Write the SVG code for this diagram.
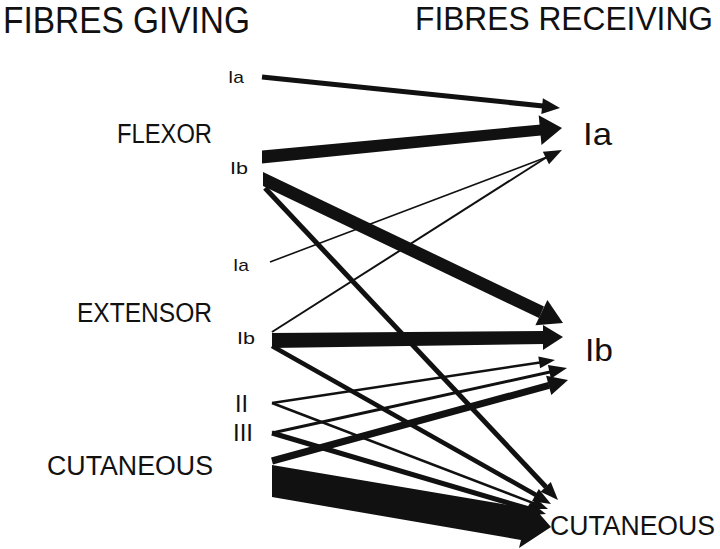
<svg xmlns="http://www.w3.org/2000/svg" width="720" height="549" viewBox="0 0 720 549">
<style>
text{font-family:"Liberation Sans",Arial,sans-serif;fill:#111}
.t{font-size:36px}
.m{font-size:27px}
.s{font-size:17px}
.r{font-size:24px}
.b{font-size:32px}
.ln{stroke:#111;fill:none;stroke-linecap:butt}
.hd{fill:#111}
</style>
<rect width="720" height="549" fill="#fff"/>
<g id="title-giving"><text class="t" x="3" y="33" textLength="247" lengthAdjust="spacingAndGlyphs">FIBRES GIVING</text></g>
<g id="title-receiving"><text transform="translate(415,30) scale(1,1.12)" x="0" y="0" style="font-size:30px" textLength="298" lengthAdjust="spacingAndGlyphs">FIBRES RECEIVING</text></g>
<g id="flexor"><text class="m" x="117" y="143" textLength="95" lengthAdjust="spacingAndGlyphs">FLEXOR</text></g>
<g id="flexor-ia"><text class="s" x="228" y="83" textLength="16" lengthAdjust="spacingAndGlyphs">Ia</text></g>
<g id="flexor-ib"><text class="s" x="230" y="174" textLength="18" lengthAdjust="spacingAndGlyphs">Ib</text></g>
<g id="extensor"><text class="m" x="77" y="322" textLength="135" lengthAdjust="spacingAndGlyphs">EXTENSOR</text></g>
<g id="extensor-ia"><text class="s" x="233" y="271" textLength="16" lengthAdjust="spacingAndGlyphs">Ia</text></g>
<g id="extensor-ib"><text class="s" x="237" y="344" textLength="18" lengthAdjust="spacingAndGlyphs">Ib</text></g>
<g id="cutaneous-ii"><text class="r" x="235" y="412" textLength="13" lengthAdjust="spacingAndGlyphs">II</text></g>
<g id="cutaneous-iii"><text class="r" x="233" y="441" textLength="20" lengthAdjust="spacingAndGlyphs">III</text></g>
<g id="cutaneous-src"><text class="m" x="47" y="475" textLength="166" lengthAdjust="spacingAndGlyphs">CUTANEOUS</text></g>
<g id="recv-ia"><text class="b" x="583" y="145" textLength="29" lengthAdjust="spacingAndGlyphs">Ia</text></g>
<g id="recv-ib"><text class="b" x="585" y="361" textLength="28" lengthAdjust="spacingAndGlyphs">Ib</text></g>
<g id="recv-cutaneous"><text class="m" x="550" y="535" textLength="165" lengthAdjust="spacingAndGlyphs">CUTANEOUS</text></g>
<g id="connectors">
<line class="ln" x1="262" y1="77" x2="543" y2="106" stroke-width="5"/>
<polygon class="hd" points="560,108 541.3,114.1 542.9,98.2"/>
<polygon class="hd" points="262,150.5 541,124.5 541,135.5 262,163.5"/>
<polygon class="hd" points="562,128 541.5,145 538.7,115.2"/>
<line class="ln" x1="270" y1="262" x2="547" y2="157" stroke-width="1.6"/>
<line class="ln" x1="272" y1="332" x2="547" y2="157" stroke-width="2"/>
<polygon class="hd" points="562,150 549,164.3 542.8,151.8"/>
<polygon class="hd" points="263,172 544,306.5 539,318 263,186"/>
<polygon class="hd" points="563,323 535.4,325.2 547.4,300"/>
<line class="ln" x1="265" y1="188" x2="546" y2="487" stroke-width="5"/>
<polygon class="hd" points="558,500 540.6,491.7 550.8,482.1"/>
<polygon class="hd" points="272,333 545,331 545,344 272,348"/>
<polygon class="hd" points="563,337 543,325 543,350"/>
<line class="ln" x1="272" y1="346" x2="536" y2="495" stroke-width="4.5"/>
<polygon class="hd" points="551,504 531.9,501.2 538.8,489"/>
<line class="ln" x1="272" y1="403" x2="540" y2="362.4" stroke-width="2.5"/>
<polygon class="hd" points="555,360 540.1,368.3 538.3,356.5"/>
<line class="ln" x1="272" y1="403" x2="534" y2="503.3" stroke-width="2.5"/>
<polygon class="hd" points="548,509 530.9,508.9 535.3,497.7"/>
<line class="ln" x1="272" y1="433" x2="550" y2="372" stroke-width="3"/>
<polygon class="hd" points="567,368 550.9,378.7 547.9,365.1"/>
<line class="ln" x1="272" y1="433" x2="529" y2="509" stroke-width="5"/>
<polygon class="hd" points="546,514 526.7,515.6 530.7,502.2"/>
<line class="ln" x1="272" y1="461" x2="549" y2="385.3" stroke-width="7"/>
<polygon class="hd" points="568,380 551.3,395 546.1,375.7"/>
<polygon class="hd" points="272,465 527,508 530,503 551,527 519,548 521,540 272,497"/>
</g>
</svg>
